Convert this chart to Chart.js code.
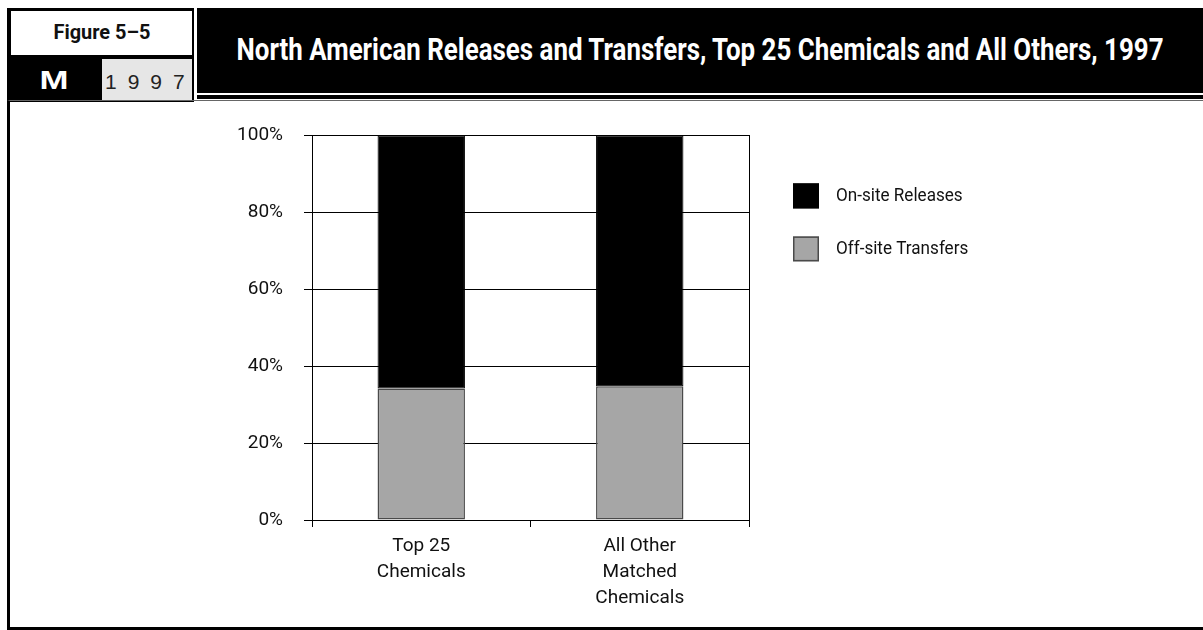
<!DOCTYPE html>
<html>
<head>
<meta charset="utf-8">
<script src="https://cdn.jsdelivr.net/npm/chart.js@4"></script>
<style>
  html, body { margin: 0; padding: 0; background: #fff; }
  body { width: 1203px; height: 630px; position: relative; overflow: hidden; font-family: Roboto, sans-serif; }
  #fig { position: absolute; left: 7px; top: 8px; width: 187px; height: 94px; background: #000; }
  #figName { position: absolute; left: 4px; top: 3px; width: 181px; height: 44px; background: #fff; color: #111; }
  #figM { position: absolute; left: 0; top: 51px; width: 94px; height: 43px; color: #fff; }
  #figYear { position: absolute; left: 95px; top: 51px; width: 90px; height: 42px; background: #e6e6e6;
             font-family: "Liberation Sans", Arial, sans-serif; font-size: 21px; letter-spacing: 11px;
             line-height: 46px; color: #222; padding-left: 3px; box-sizing: border-box; white-space: nowrap; }
  #titleBar { position: absolute; left: 197px; top: 8px; right: 0; height: 85px; background: #000; color: #fff; }
  .squeeze { position: absolute; left: 50%; white-space: nowrap; transform: translateX(-50%); }
  #figName .squeeze { font-weight: bold; font-size: 21px; top: 9px; }
  #figM .squeeze { font-family: "Liberation Sans", Arial, sans-serif; font-weight: bold; font-size: 26px; top: 6px; }
  #titleBar .squeeze { font-weight: bold; font-size: 31px; top: 23px; }
  #titleRule { position: absolute; left: 197px; top: 95px; right: 0; height: 4px; background: #000; }
  #frame { position: absolute; left: 7px; top: 100px; right: -10px; height: 526px;
           border-left: 3px solid #000; border-bottom: 3px solid #000; border-top: 1px solid #666; }
  #chart { position: absolute; left: 0; top: 103px; }
</style>
</head>
<body>
<div id="fig">
  <div id="figName"><span class="squeeze" data-w="97">Figure 5–5</span></div>
  <div id="figM"><span class="squeeze" data-w="29">M</span></div>
  <div id="figYear">1997</div>
</div>
<div id="titleBar"><span class="squeeze" data-w="927">North American Releases and Transfers, Top 25 Chemicals and All Others, 1997</span></div>
<div id="titleRule"></div>
<div id="frame"></div>
<canvas id="chart" width="1203" height="523"></canvas>
<script>
const categories = [['Top 25', 'Chemicals'], ['All Other', 'Matched', 'Chemicals']];
const offSiteTransfers = [34.2, 34.8];
const onSiteReleases = [65.8, 65.2];
const yTicks = [0, 20, 40, 60, 80, 100];

const FONT = 'Roboto, sans-serif';

// stretch or narrow the header text to its printed width, kept centred
for (const el of document.querySelectorAll('.squeeze[data-w]')) {
    const w = el.getBoundingClientRect().width;
    el.style.transform = 'translateX(-50%) scaleX(' + (parseFloat(el.dataset.w) / w) + ')';
}

// legend drawn as a column of squares to the right of the plot, top item first
const sideLegend = {
    id: 'sideLegend',
    afterDraw(chart) {
        const ctx = chart.ctx;
        const area = chart.chartArea;
        const sets = chart.data.datasets.slice().reverse();
        let y = area.top + 48;
        ctx.save();
        ctx.font = '19px ' + FONT;
        ctx.textBaseline = 'middle';
        for (const ds of sets) {
            const x = area.right + 44;
            ctx.fillStyle = ds.backgroundColor;
            ctx.fillRect(x, y, 26, 25);
            ctx.strokeStyle = ds.borderColor;
            ctx.lineWidth = 1.5;
            ctx.strokeRect(x + 0.75, y + 0.75, 24.5, 23.5);
            ctx.fillStyle = '#111';
            ctx.save();
            ctx.translate(x + 43, y + 12.5);
            ctx.scale(0.9, 1);
            ctx.fillText(ds.label, 0, 0);
            ctx.restore();
            y += 53;
        }
        ctx.restore();
    }
};

new Chart(document.getElementById('chart'), {
    type: 'bar',
    data: {
        labels: categories,
        datasets: [
            {
                label: 'Off-site Transfers',
                data: offSiteTransfers,
                backgroundColor: '#a6a6a6',
                borderColor: '#4a4a4a',
                borderWidth: 1.5,
                borderSkipped: false
            },
            {
                label: 'On-site Releases',
                data: onSiteReleases,
                backgroundColor: '#000000',
                borderColor: '#000000',
                borderWidth: 1,
                borderSkipped: false
            }
        ]
    },
    options: {
        responsive: false,
        animation: false,
        devicePixelRatio: 1,
        layout: {padding: {top: 32, right: 454, left: 0, bottom: 0}},
        plugins: {legend: {display: false}, tooltip: {enabled: false}},
        datasets: {bar: {categoryPercentage: 1, barPercentage: 0.4}},
        scales: {
            x: {
                stacked: true,
                grid: {offset: true, drawOnChartArea: false, color: '#000', tickLength: 7, lineWidth: 1},
                border: {color: '#000', width: 1},
                ticks: {color: '#111', font: {family: FONT, size: 19, lineHeight: 1.37}, padding: 6, maxRotation: 0},
                afterFit: s => { s.height = 106; }
            },
            y: {
                stacked: true,
                min: 0,
                max: 100,
                afterBuildTicks: s => { s.ticks = yTicks.map(v => ({value: v})); },
                grid: {color: '#000', lineWidth: 1, tickLength: 8},
                border: {color: '#000', width: 1},
                ticks: {color: '#111', font: {family: FONT, size: 19}, padding: 21, callback: v => v + '%'},
                afterFit: s => { s.width = 312; }
            },
            y2: {
                position: 'right',
                grid: {display: false},
                ticks: {display: false},
                border: {display: true, color: '#000', width: 1},
                afterFit: s => { s.width = 0; }
            }
        }
    },
    plugins: [sideLegend]
});
</script>
</body>
</html>
